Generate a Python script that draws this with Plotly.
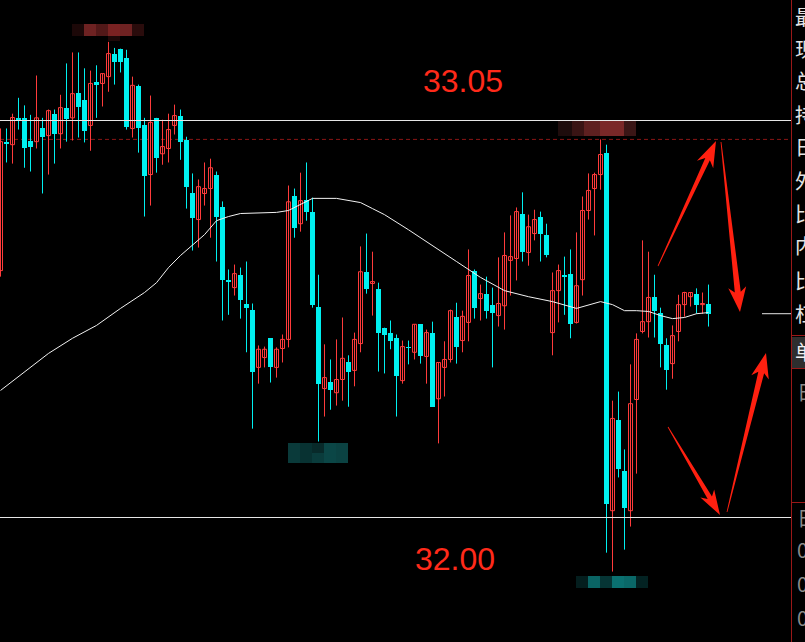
import math
import plotly.graph_objects as go

# ---------------- data ----------------
open_ = [32.653, 32.994, 32.986, 33.057, 33.057, 32.997, 32.994, 33.029, 33.010, 33.068,
         33.015, 33.084, 33.057, 33.124, 33.103, 33.037, 33.151, 33.148, 33.166, 33.227,
         33.240, 33.214, 33.029, 33.140, 33.037, 32.907, 33.057, 32.962, 32.976, 33.037,
         33.063, 32.999, 32.857, 32.788, 32.857, 32.870, 32.907, 32.822, 32.629, 32.608,
         32.642, 32.566, 32.550, 32.397, 32.423, 32.474, 32.397, 32.447, 32.471, 32.851,
         32.777, 32.841, 32.809, 32.558, 32.341, 32.359, 32.330, 32.365, 32.410, 32.389,
         32.460, 32.648, 32.619, 32.605, 32.502, 32.487, 32.476, 32.362, 32.452, 32.437,
         32.511, 32.426, 32.489, 32.314, 32.397, 32.418, 32.529, 32.468, 32.516, 32.653,
         32.579, 32.592, 32.563, 32.534, 32.560, 32.680, 32.685, 32.804, 32.701, 32.751,
         32.796, 32.748, 32.489, 32.600, 32.642, 32.645, 32.516, 32.629, 32.812, 32.870,
         32.907, 32.965, 32.018, 32.259, 32.122, 32.018, 32.312, 32.492, 32.518, 32.584,
         32.542, 32.455, 32.407, 32.492, 32.563, 32.584, 32.590, 32.563, 32.566]
high = [33.029, 33.029, 33.068, 33.110, 33.090, 33.065, 33.169, 33.057, 33.079, 33.079,
        33.118, 33.201, 33.230, 33.230, 33.188, 33.182, 33.196, 33.174, 33.258, 33.242,
        33.240, 33.237, 33.166, 33.145, 33.057, 33.116, 33.057, 33.052, 33.068, 33.092,
        33.079, 33.007, 32.910, 32.894, 32.939, 32.949, 32.915, 32.836, 32.656, 32.669,
        32.661, 32.677, 32.566, 32.455, 32.452, 32.474, 32.450, 32.484, 32.878, 32.870,
        32.912, 32.939, 32.846, 32.642, 32.458, 32.418, 32.471, 32.529, 32.429, 32.489,
        32.717, 32.751, 32.703, 32.621, 32.502, 32.521, 32.484, 32.468, 32.468, 32.511,
        32.511, 32.497, 32.518, 32.410, 32.466, 32.550, 32.568, 32.547, 32.709, 32.656,
        32.616, 32.637, 32.608, 32.688, 32.754, 32.799, 32.820, 32.860, 32.801, 32.814,
        32.809, 32.777, 32.648, 32.669, 32.690, 32.709, 32.754, 32.849, 32.910, 32.912,
        33.000, 32.986, 32.309, 32.333, 32.180, 32.405, 32.487, 32.733, 32.703, 32.642,
        32.555, 32.474, 32.508, 32.589, 32.597, 32.595, 32.606, 32.595, 32.616]
low = [32.637, 32.939, 32.936, 33.026, 32.925, 32.915, 32.976, 32.857, 32.907, 32.936,
       32.976, 32.994, 32.997, 33.005, 32.992, 32.970, 33.057, 33.087, 33.126, 33.145,
       33.177, 33.026, 33.005, 32.965, 32.796, 32.825, 32.912, 32.933, 32.939, 33.013,
       32.946, 32.817, 32.706, 32.714, 32.825, 32.740, 32.677, 32.521, 32.536, 32.587,
       32.526, 32.437, 32.235, 32.354, 32.397, 32.357, 32.370, 32.410, 32.450, 32.740,
       32.756, 32.785, 32.555, 32.201, 32.267, 32.285, 32.296, 32.309, 32.293, 32.347,
       32.437, 32.592, 32.534, 32.386, 32.381, 32.445, 32.267, 32.354, 32.405, 32.418,
       32.407, 32.354, 32.293, 32.196, 32.320, 32.410, 32.407, 32.437, 32.466, 32.526,
       32.521, 32.526, 32.397, 32.505, 32.497, 32.587, 32.627, 32.677, 32.666, 32.733,
       32.677, 32.688, 32.429, 32.516, 32.536, 32.474, 32.513, 32.587, 32.788, 32.746,
       32.867, 31.907, 31.857, 32.106, 31.915, 31.976, 32.116, 32.487, 32.476, 32.476,
       32.397, 32.338, 32.367, 32.466, 32.531, 32.558, 32.539, 32.539, 32.505]
close = [32.994, 32.989, 33.058, 33.050, 32.976, 32.981, 33.057, 33.007, 33.076, 33.015,
         33.084, 33.055, 33.121, 33.087, 33.023, 33.148, 33.145, 33.174, 33.227, 33.204,
         33.204, 33.034, 33.143, 33.031, 32.902, 33.045, 32.951, 32.981, 33.026, 33.063,
         32.994, 32.875, 32.793, 32.875, 32.870, 32.925, 32.796, 32.627, 32.624, 32.645,
         32.576, 32.555, 32.386, 32.445, 32.445, 32.397, 32.445, 32.471, 32.835, 32.767,
         32.838, 32.807, 32.563, 32.352, 32.370, 32.336, 32.365, 32.421, 32.386, 32.471,
         32.650, 32.605, 32.624, 32.487, 32.484, 32.468, 32.375, 32.452, 32.447, 32.511,
         32.426, 32.489, 32.293, 32.410, 32.418, 32.547, 32.452, 32.532, 32.640, 32.555,
         32.592, 32.545, 32.542, 32.566, 32.693, 32.690, 32.809, 32.701, 32.769, 32.788,
         32.751, 32.693, 32.600, 32.653, 32.637, 32.513, 32.613, 32.812, 32.865, 32.907,
         32.960, 32.037, 32.262, 32.127, 32.024, 32.301, 32.471, 32.518, 32.582, 32.547,
         32.460, 32.391, 32.481, 32.563, 32.595, 32.595, 32.563, 32.566, 32.539]

ma_idx = [0, 4, 8, 12, 16, 20, 24, 26, 28, 30, 32, 34, 36, 38, 40, 44, 46, 48, 50, 52,
          56, 58, 60, 62, 64, 68, 72, 76, 80, 84, 88, 92, 96, 98, 100, 102, 104, 106,
          108, 110, 112, 114, 116, 118]
ma_val = [32.336, 32.386, 32.434, 32.474, 32.508, 32.553, 32.595, 32.621, 32.661, 32.693,
          32.720, 32.748, 32.785, 32.796, 32.804, 32.807, 32.807, 32.812, 32.828, 32.844,
          32.844, 32.838, 32.833, 32.817, 32.801, 32.761, 32.720, 32.677, 32.635, 32.600,
          32.584, 32.571, 32.553, 32.563, 32.571, 32.563, 32.547, 32.547, 32.545, 32.534,
          32.526, 32.529, 32.539, 32.542]

level_values = [33.05, 32.00]
level_labels = ["33.05", "32.00"]
dash_level = 33.00
panel_top_labels = ["最", "现", "总", "持", "日", "外", "比", "内", "比", "杠"]
panel_sel_label = "单"
panel_low_labels = ["日", "日", "0", "0", "0"]

# ---------------- styling / layout ----------------
W, H = 805, 642
PW = 791                      # plot area width in px (right panel beyond)
PX_PER_UNIT = 397 / 1.05      # vertical scale
RED = "#ff3b3b"
CYAN = "#00f0f0"
ARROW = "#ff2010"

n = len(open_)
idx = list(range(n))
up = [i for i in idx if close[i] >= open_[i]]
dn = [i for i in idx if close[i] < open_[i]]


def px(x):
    return x / PW


def py(y):
    return 1 - y / H


def wicks(ids):
    xs, ys = [], []
    for i in ids:
        xs += [i, i, None]
        ys += [high[i], low[i], None]
    return xs, ys


fig = go.Figure()
wx, wy = wicks(up)
fig.add_trace(go.Scatter(x=wx, y=wy, mode="lines", line=dict(color=RED, width=1),
                         hoverinfo="skip", showlegend=False))
wx, wy = wicks(dn)
fig.add_trace(go.Scatter(x=wx, y=wy, mode="lines", line=dict(color=CYAN, width=1),
                         hoverinfo="skip", showlegend=False))
fig.add_trace(go.Bar(x=up, y=[close[i] - open_[i] for i in up], base=[open_[i] for i in up],
                     width=4 / 6, marker=dict(color="#000000", line=dict(color=RED, width=1)),
                     hoverinfo="skip", showlegend=False))
fig.add_trace(go.Bar(x=dn, y=[open_[i] - close[i] for i in dn], base=[close[i] for i in dn],
                     width=5 / 6, marker=dict(color=CYAN, line=dict(width=0)),
                     hoverinfo="skip", showlegend=False))
fig.add_trace(go.Scatter(x=ma_idx, y=ma_val, mode="lines", line=dict(color="#f2f2f2", width=1),
                         hoverinfo="skip", showlegend=False))

shapes = []
# pixelated (mosaic) labels
mosaics = [
    # top red label
    (72, 84, 24, 36, "#1c0808"), (84, 96, 24, 36, "#6e2222"), (96, 108, 24, 36, "#521818"),
    (108, 120, 24, 36, "#7a2222"), (120, 132, 24, 36, "#6e2222"), (132, 144, 24, 36, "#2a0c0c"),
    (108, 120, 36, 41, "#1e0808"),
    # right red label
    (558, 572, 121, 136, "#1e0c0c"), (572, 584, 121, 136, "#3a1414"), (584, 600, 121, 136, "#5e2020"),
    (600, 624, 121, 136, "#7a2828"), (624, 636, 121, 136, "#3a1616"),
    # middle cyan label
    (288, 300, 443, 463, "#0a3a3a"), (300, 312, 443, 463, "#083232"), (312, 324, 443, 453, "#082a2a"),
    (312, 324, 453, 463, "#0a3c3c"), (324, 336, 443, 463, "#0b4646"), (336, 348, 443, 463, "#0b4242"),
    # bottom cyan label
    (576, 588, 576, 588, "#041e1e"), (588, 600, 576, 588, "#0a6464"), (600, 612, 576, 588, "#063535"),
    (612, 624, 576, 588, "#0a7070"), (624, 636, 576, 588, "#0a6868"), (636, 648, 576, 588, "#032222"),
]
for x0, x1, y0, y1, c in mosaics:
    shapes.append(dict(type="rect", xref="paper", yref="paper", x0=px(x0), x1=px(x1),
                       y0=py(y1), y1=py(y0), fillcolor=c, line=dict(width=0), layer="below"))

shapes.append(dict(type="line", xref="paper", yref="y", x0=0, x1=1, y0=dash_level, y1=dash_level,
                   line=dict(color="#8a1515", width=1, dash="4px,3px"), layer="below"))
for v in level_values:
    shapes.append(dict(type="line", xref="paper", yref="y", x0=0, x1=1, y0=v, y1=v,
                       line=dict(color="#e6e6e6", width=1), layer="above"))
# last price marker at right edge
shapes.append(dict(type="line", xref="paper", yref="y", x0=px(762), x1=1,
                   y0=close[-1], y1=close[-1], line=dict(color="#e6e6e6", width=1)))


def arrow(tail, tip, head_len, head_hw, base_hw, sweep, tail_hw=0.4):
    tx, ty = tail
    qx, qy = tip
    dx, dy = qx - tx, qy - ty
    L = math.hypot(dx, dy)
    ux, uy = dx / L, dy / L
    nx, ny = -uy, ux
    bx, by = qx - ux * head_len, qy - uy * head_len
    pts = [
        (tx + nx * tail_hw, ty + ny * tail_hw),
        (bx + nx * base_hw, by + ny * base_hw),
        (bx - ux * sweep + nx * head_hw, by - uy * sweep + ny * head_hw),
        (qx, qy),
        (bx - ux * sweep - nx * head_hw, by - uy * sweep - ny * head_hw),
        (bx - nx * base_hw, by - ny * base_hw),
        (tx - nx * tail_hw, ty - ny * tail_hw),
    ]
    path = "M " + " L ".join(f"{px(x):.5f},{py(y):.5f}" for x, y in pts) + " Z"
    return dict(type="path", xref="paper", yref="paper", path=path,
                fillcolor=ARROW, line=dict(width=0), layer="above")


shapes.append(arrow((658, 266), (716, 141), 20, 9, 2.5, 6))
shapes.append(arrow((721, 142), (740, 312), 20, 9, 3, 5))
shapes.append(arrow((668, 427), (720, 515), 20, 8, 2.5, 5))
shapes.append(arrow((727, 512), (766, 353), 20, 9, 3, 5))

# right info panel
shapes.append(dict(type="line", xref="paper", yref="paper", x0=px(791.5), x1=px(791.5), y0=0, y1=1,
                   line=dict(color="#9a1818", width=1)))
shapes.append(dict(type="rect", xref="paper", yref="paper", x0=px(792), x1=px(806),
                   y0=py(368), y1=py(337), fillcolor="#2e2e2e", line=dict(width=0)))
for yy in (335.5, 368.5, 502.5):
    shapes.append(dict(type="line", xref="paper", yref="paper", x0=px(791.5), x1=px(806),
                       y0=py(yy), y1=py(yy), line=dict(color="#9a1818", width=1)))

annotations = []
for lab, (tx, ty) in zip(level_labels, [(463, 81), (455, 559)]):
    annotations.append(dict(text=lab, xref="paper", yref="paper", x=px(tx), y=py(ty),
                            xanchor="center", yanchor="middle", showarrow=False,
                            font=dict(family="Liberation Sans, Arial", size=32, color="#ff2a1a")))
top_y = [17, 48, 81, 114, 147, 181, 213, 246, 280, 313]
for lab, yy in zip(panel_top_labels, top_y):
    annotations.append(dict(text=lab, xref="paper", yref="paper", x=px(793), y=py(yy),
                            xanchor="left", yanchor="middle", showarrow=False,
                            font=dict(family="Noto Sans CJK SC", size=20, color="#e4e4e4")))
annotations.append(dict(text=panel_sel_label, xref="paper", yref="paper", x=px(793), y=py(352),
                        xanchor="left", yanchor="middle", showarrow=False,
                        font=dict(family="Noto Sans CJK SC", size=20, color="#f0f0f0")))
for lab, yy in zip(panel_low_labels, [391, 517, 549, 583, 617]):
    annotations.append(dict(text=lab, xref="paper", yref="paper", x=px(795), y=py(yy),
                            xanchor="left", yanchor="middle", showarrow=False,
                            font=dict(family="Noto Sans CJK SC", size=20, color="#8a8a8a")))

ymax = 33.05 + 120.5 / PX_PER_UNIT
ymin = ymax - H / PX_PER_UNIT
x0 = -0.5 / 6
x1 = x0 + PW / 6

fig.update_layout(
    width=W, height=H,
    margin=dict(l=0, r=W - PW, t=0, b=0, pad=0),
    paper_bgcolor="#000000", plot_bgcolor="#000000",
    barmode="overlay", bargap=0,
    showlegend=False,
    xaxis=dict(range=[x0, x1], visible=False, fixedrange=True),
    yaxis=dict(range=[ymin, ymax], visible=False, fixedrange=True),
    shapes=shapes, annotations=annotations,
    hovermode=False,
)

fig.write_html("out.html", config={"displayModeBar": False, "staticPlot": True},
               post_script="document.body.style.margin='0';document.body.style.background='#000';")
